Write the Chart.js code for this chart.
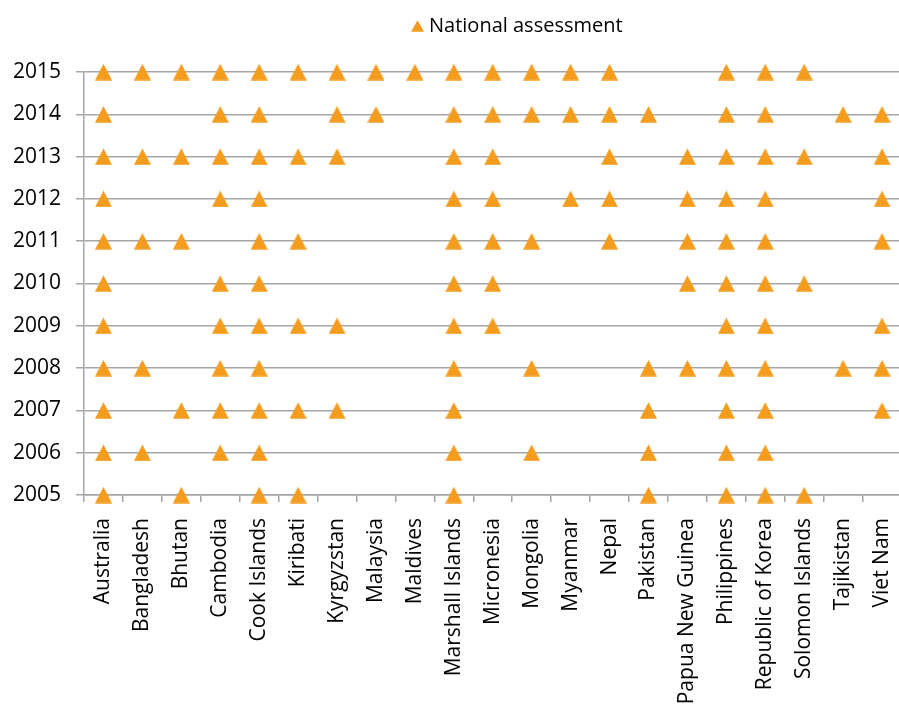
<!DOCTYPE html>
<html>
<head>
<meta charset="utf-8">
<script src="https://cdn.jsdelivr.net/npm/chart.js@4"></script>
<style>
  html, body { margin: 0; padding: 0; background: #fff; overflow: hidden; }
  #wrap { width: 910px; height: 706px; }
</style>
</head>
<body>
<div id="wrap"><canvas id="c"></canvas></div>
<script>
// ---- Data ----
const countries = ["Australia", "Bangladesh", "Bhutan", "Cambodia", "Cook Islands", "Kiribati",
  "Kyrgyzstan", "Malaysia", "Maldives", "Marshall Islands", "Micronesia", "Mongolia", "Myanmar",
  "Nepal", "Pakistan", "Papua New Guinea", "Philippines", "Republic of Korea", "Solomon Islands",
  "Tajikistan", "Viet Nam"];

const yearTicks = [2005, 2006, 2007, 2008, 2009, 2010, 2011, 2012, 2013, 2014, 2015];

const seriesName = "National assessment";

// Years in which each country carried out a national assessment (same order as countries)
const assessmentYears = [
  [2005, 2006, 2007, 2008, 2009, 2010, 2011, 2012, 2013, 2014, 2015], // Australia
  [2006, 2008, 2011, 2013, 2015],                                     // Bangladesh
  [2005, 2007, 2011, 2013, 2015],                                     // Bhutan
  [2006, 2007, 2008, 2009, 2010, 2012, 2013, 2014, 2015],             // Cambodia
  [2005, 2006, 2007, 2008, 2009, 2010, 2011, 2012, 2013, 2014, 2015], // Cook Islands
  [2005, 2007, 2009, 2011, 2013, 2015],                               // Kiribati
  [2007, 2009, 2013, 2014, 2015],                                     // Kyrgyzstan
  [2014, 2015],                                                       // Malaysia
  [2015],                                                             // Maldives
  [2005, 2006, 2007, 2008, 2009, 2010, 2011, 2012, 2013, 2014, 2015], // Marshall Islands
  [2009, 2010, 2011, 2012, 2013, 2014, 2015],                         // Micronesia
  [2006, 2008, 2011, 2014, 2015],                                     // Mongolia
  [2012, 2014, 2015],                                                 // Myanmar
  [2011, 2012, 2013, 2014, 2015],                                     // Nepal
  [2005, 2006, 2007, 2008, 2014],                                     // Pakistan
  [2008, 2010, 2011, 2012, 2013],                                     // Papua New Guinea
  [2005, 2006, 2007, 2008, 2009, 2010, 2011, 2012, 2013, 2014, 2015], // Philippines
  [2005, 2006, 2007, 2008, 2009, 2010, 2011, 2012, 2013, 2014, 2015], // Republic of Korea
  [2005, 2010, 2013, 2015],                                           // Solomon Islands
  [2008, 2014],                                                       // Tajikistan
  [2007, 2008, 2009, 2011, 2012, 2013, 2014]                          // Viet Nam
];

// ---- Styling ----
const ORANGE = '#F39C1E';
const GRID = '#A6A6A6';
const FONT = "'Open Sans', 'DejaVu Sans', sans-serif";

function triangleCanvas(cw, ch, tw, th, offsetX) {
  const cv = document.createElement('canvas');
  cv.width = cw; cv.height = ch;
  const g = cv.getContext('2d');
  g.fillStyle = ORANGE;
  const top = (ch - th) / 2;
  g.beginPath();
  g.moveTo(offsetX, top + th);
  g.lineTo(offsetX + tw / 2, top);
  g.lineTo(offsetX + tw, top + th);
  g.closePath();
  g.fill();
  return cv;
}
const markerImg = triangleCanvas(17, 17, 17, 16.5, 0);
const legendImg = triangleCanvas(23, 12, 13, 11.5, 10);

const points = [];
countries.forEach((c, i) => {
  assessmentYears[i].forEach(y => points.push({ x: c, y: y }));
});

const legendTweak = {
  id: 'legendTweak',
  beforeInit(chart) {
    const lg = chart.legend;
    if (lg) {
      const fit = lg.fit;
      lg.fit = function () { fit.call(lg); lg.height += 26; };
    }
  },
  afterLayout(chart) {
    const lg = chart.legend;
    if (lg) { lg.left += 396; lg.right += 396; }
  }
};

new Chart(document.getElementById('c'), {
  type: 'line',
  data: {
    labels: countries,
    datasets: [{
      label: seriesName,
      data: points,
      showLine: false,
      pointStyle: markerImg,
      pointRadius: 8.5,
      pointHoverRadius: 8.5,
      backgroundColor: ORANGE,
      borderColor: ORANGE,
      borderWidth: 0,
      clip: false
    }]
  },
  options: {
    responsive: true,
    maintainAspectRatio: false,
    animation: false,
    events: [],
    layout: { padding: { top: 6, left: 0, right: 0, bottom: 0 } },
    plugins: {
      legend: {
        position: 'top',
        align: 'start',
        labels: {
          usePointStyle: true,
          pointStyle: legendImg,
          pointStyleWidth: 13,
          padding: 10,
          color: '#000',
          font: { family: FONT, size: 20 }
        }
      },
      tooltip: { enabled: false }
    },
    scales: {
      x: {
        type: 'category',
        offset: true,
        afterFit(scale) { scale.height = 211; scale.paddingLeft = 0; scale.paddingRight = 0; },
        grid: {
          offset: true,
          drawOnChartArea: false,
          drawTicks: true,
          tickLength: 7,
          color: GRID,
          lineWidth: 1.5
        },
        border: { display: true, color: GRID, width: 1.5 },
        ticks: {
          autoSkip: false,
          minRotation: 90,
          maxRotation: 90,
          padding: 16,
          color: '#000',
          font: { family: FONT, size: 21 }
        }
      },
      y: {
        type: 'linear',
        min: yearTicks[0],
        max: yearTicks[yearTicks.length - 1],
        afterFit(scale) { scale.width = 84; scale.paddingTop = 0; scale.paddingBottom = 0; },
        afterBuildTicks(scale) { scale.ticks = yearTicks.map(v => ({ value: v })); },
        grid: {
          drawOnChartArea: true,
          drawTicks: true,
          tickLength: 8,
          color: GRID,
          lineWidth: 1.5
        },
        border: { display: true, color: GRID, width: 1.5 },
        ticks: {
          padding: 15,
          color: '#000',
          font: { family: FONT, size: 21 },
          callback: v => String(v)
        }
      }
    }
  },
  plugins: [legendTweak]
});
</script>
</body>
</html>
